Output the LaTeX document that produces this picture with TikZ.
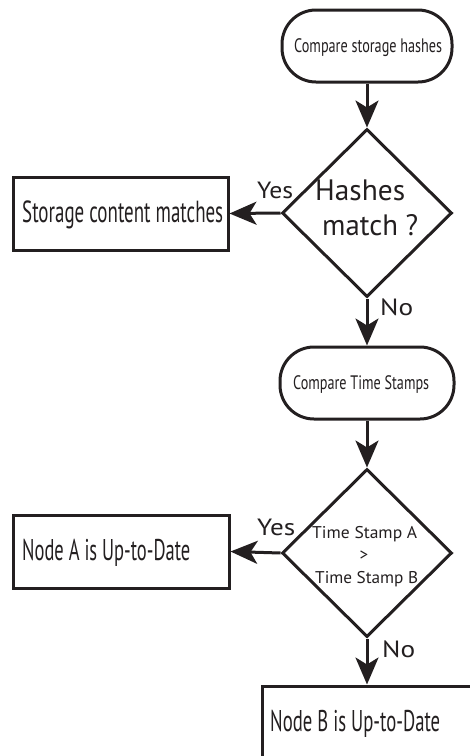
\documentclass[tikz,border=0pt]{standalone}
\usepackage{fontspec}
\usepackage{graphicx}
\setmainfont{PT Sans}
\usetikzlibrary{shapes.geometric,arrows.meta}
\definecolor{ink}{HTML}{231F20}
\newcommand\fittext[3]{\resizebox{#1pt}{\height}{\fontsize{#2pt}{#2pt}\selectfont #3}}
\begin{document}
\begin{tikzpicture}[x=1pt,y=-1pt,
  term/.style={draw=ink, line width=3pt, rounded corners=34pt, minimum width=170pt, minimum height=72pt, inner sep=0pt},
  proc/.style={draw=ink, line width=3pt, rectangle, inner sep=0pt},
  dec/.style={draw=ink, line width=3pt, diamond, minimum width=170pt, minimum height=168pt, inner sep=0pt},
  arr/.style={draw=ink, line width=3pt, -{Stealth[length=27pt,width=23pt,inset=7pt]}},
  txt/.style={inner sep=0pt, anchor=base west, text=ink}]
\useasboundingbox (0,0) rectangle (470,756);
\clip (0,0) rectangle (470,756);
% shapes
\node[term] (t1) at (367,46) {};
\node[dec] (d1) at (367,213) {};
\node[proc, minimum width=215pt, minimum height=73pt] (b1) at (120.5,213.5) {};
\node[term, minimum width=174pt] (t2) at (367,383) {};
\node[dec] (d2) at (367,553) {};
\node[proc, minimum width=216pt, minimum height=73pt] (ba) at (121,551.5) {};
\node[proc, minimum width=216pt, minimum height=90pt] (bb) at (370,731) {};
% connectors
\draw[arr] (t1.south) -- (d1.north);
\draw[arr] (d1.west) -- (b1.east);
\draw[arr] (d1.south) -- (t2.north);
\draw[arr] (t2.south) -- (d2.north);
\draw[arr] (d2.west) -- (ba.east);
\draw[arr] (d2.south) -- (d2.south |- bb.north);
% texts
\node[txt] (l1) at (294,52) {\fittext{148}{19.5}{Compare storage hashes}};
\node[txt] (l2) at (22,222) {\fittext{201}{30.5}{Storage content matches}};
\node[txt] (l3) at (315,200) {\fittext{90}{29.5}{Hashes}};
\node[txt] (l4) at (322,235) {\fittext{96}{29.5}{match ?}};
\node[txt] (l5) at (257,198) {\fittext{36}{23.5}{Yes}};
\node[txt] (l6) at (380,315) {\fittext{33}{23.5}{No}};
\node[txt] (l7) at (293,389) {\fittext{136}{19.5}{Compare Time Stamps}};
\node[txt] (l8) at (312,538) {\fittext{105}{17}{Time Stamp A}};
\node[inner sep=0pt, anchor=base, text=ink] (l9) at (364,560) {\fontsize{17pt}{17pt}\selectfont >};
\node[txt] (l10) at (315,583) {\fittext{103}{17}{Time Stamp B}};
\node[txt] (l11) at (257,535) {\fittext{38}{23.5}{Yes}};
\node[txt] (l12) at (22,560) {\fittext{168}{30}{Node A is Up-to-Date}};
\node[txt] (l13) at (382,657) {\fittext{33}{23.5}{No}};
\node[txt] (l14) at (270,731) {\fittext{170}{30}{Node B is Up-to-Date}};
\end{tikzpicture}
\end{document}
